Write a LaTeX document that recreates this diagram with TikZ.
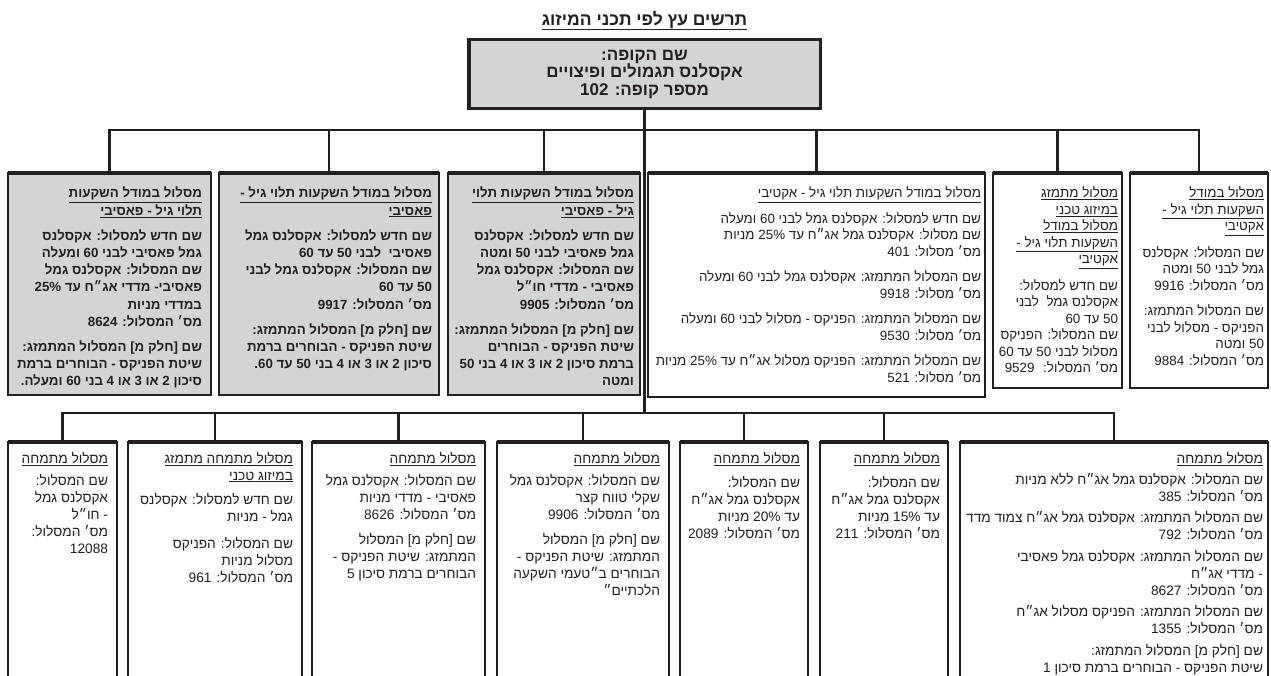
\documentclass[tikz,border=0pt]{standalone}
\usepackage{fontspec}
\usetikzlibrary{positioning}
\setmainfont{Liberation Sans}
\newfontfamily\hebfont[Script=Hebrew]{Liberation Sans}
\TeXXeTstate=1
\definecolor{ink}{HTML}{231F20}
\definecolor{boxgray}{HTML}{D3D4D6}
\newcommand{\rl}[1]{\beginR#1\endR}
\newcommand{\ul}[1]{\underline{\beginR#1\endR}}
\newcommand{\nb}[1]{\beginL#1\endL}
\newcommand{\cell}[3]{\parbox[t][#2][t]{#1}{\raggedleft#3}}
\tikzset{
  link/.style={draw=ink, line width=2.8pt},
  topbar/.style={draw=ink, line width=4pt},
  graybox/.style={draw=ink, line width=1.6pt, fill=boxgray, text=ink, inner xsep=7pt, inner ysep=14pt, outer sep=0pt,
    font=\hebfont\bfseries\fontsize{13.3}{17.2}\selectfont},
  whitebox/.style={draw=ink, line width=1.1pt, fill=white, text=ink, inner xsep=4pt, inner ysep=14pt, outer sep=0pt,
    font=\hebfont\fontsize{13.4}{16.5}\selectfont},
  lowbox/.style={whitebox, inner xsep=9pt, inner ysep=10pt,
    font=\hebfont\fontsize{13.7}{17}\selectfont},
}
\begin{document}
\begin{tikzpicture}[x=1pt, y=-1pt]
  \useasboundingbox (0,0) rectangle (1271,676);
  \clip (0,0) rectangle (1271,676);
  \fill[white] (0,0) rectangle (1271,676);

  % root
  \node[draw=ink, line width=3.5pt, fill=boxgray, text=ink, outer sep=0pt, minimum width=351.5pt, minimum height=69pt,
    align=center, font=\hebfont\bfseries\fontsize{17}{17.5}\selectfont] (root) at (644.5,74)
    {\rl{שם הקופה:}\\ \rl{אקסלנס תגמולים ופיצויים}\\ \rl{מספר קופה: \nb{102}}};
  \node[above=9pt of root, inner sep=0pt, text=ink, font=\hebfont\bfseries\fontsize{17.5}{20}\selectfont] (title)
    {\ul{תרשים עץ לפי תכני המיזוג}};

  % middle row
  \node[graybox, inner xsep=9pt, anchor=north west] (m1) at (8,173) {\cell{185pt}{194pt}{%
    \ul{מסלול במודל השקעות}\\
    \ul{תלוי גיל - פאסיבי}\\[8pt]
    \rl{שם חדש למסלול: אקסלנס}\\
    \rl{גמל פאסיבי לבני \nb{60} ומעלה}\\
    \rl{שם המסלול: אקסלנס גמל}\\
    \rl{פאסיבי- מדדי אג״ח עד \nb{25\%}}\\
    \rl{במדדי מניות}\\
    \rl{מס׳ המסלול: \nb{8624}}\\[8pt]
    \rl{שם [חלק מ] המסלול המתמזג:}\\
    \rl{שיטת הפניקס - הבוחרים ברמת}\\
    \rl{סיכון 2 או 3 או 4 בני \nb{60} ומעלה.}}};
  \node[graybox, right=8pt of m1.north east, anchor=north west] (m2) {\cell{206pt}{194pt}{%
    \ul{מסלול במודל השקעות תלוי גיל -}\\
    \ul{פאסיבי}\\[8pt]
    \rl{שם חדש למסלול: אקסלנס גמל}\\
    \rl{פאסיבי \ לבני \nb{50} עד \nb{60}}\\
    \rl{שם המסלול: אקסלנס גמל לבני}\\
    \rl{\nb{50} עד \nb{60}}\\
    \rl{מס׳ המסלול: \nb{9917}}\\[8pt]
    \rl{שם [חלק מ] המסלול המתמזג:}\\
    \rl{שיטת הפניקס - הבוחרים ברמת}\\
    \rl{סיכון 2 או 3 או 4 בני \nb{50} עד \nb{60}.}}};
  \node[graybox, inner xsep=6pt, right=9pt of m2.north east, anchor=north west] (m3) {\cell{180pt}{194pt}{%
    \ul{מסלול במודל השקעות תלוי}\\
    \ul{גיל - פאסיבי}\\[8pt]
    \rl{שם חדש למסלול: אקסלנס}\\
    \rl{גמל פאסיבי לבני \nb{50} ומטה}\\
    \rl{שם המסלול: אקסלנס גמל}\\
    \rl{פאסיבי - מדדי חו״ל}\\
    \rl{מס׳ המסלול: \nb{9905}}\\[8pt]
    \rl{שם [חלק מ] המסלול המתמזג:}\\
    \rl{שיטת הפניקס - הבוחרים}\\
    \rl{ברמת סיכון 2 או 3 או 4 בני \nb{50}}\\
    \rl{ומטה}}};
  \node[whitebox, right=8pt of m3.north east, anchor=north west] (m4) {\cell{329pt}{196pt}{%
    \ul{מסלול במודל השקעות תלוי גיל - אקטיבי}\\[9pt]
    \rl{שם חדש למסלול: אקסלנס גמל לבני \nb{60} ומעלה}\\
    \rl{שם מסלול: אקסלנס גמל אג״ח עד \nb{25\%} מניות}\\
    \rl{מס׳ מסלול: \nb{401}}\\[9pt]
    \rl{שם המסלול המתמזג: אקסלנס גמל לבני \nb{60} ומעלה}\\
    \rl{מס׳ מסלול: \nb{9918}}\\[9pt]
    \rl{שם המסלול המתמזג: הפניקס - מסלול לבני \nb{60} ומעלה}\\
    \rl{מס׳ מסלול: \nb{9530}}\\[9pt]
    \rl{שם המסלול המתמזג: הפניקס מסלול אג״ח עד \nb{25\%} מניות}\\
    \rl{מס׳ מסלול: \nb{521}}}};
  \node[whitebox, right=8pt of m4.north east, anchor=north west] (m5) {\cell{121pt}{187pt}{%
    \ul{מסלול מתמזג}\\
    \ul{במיזוג טכני}\\
    \ul{מסלול במודל}\\
    \ul{השקעות תלוי גיל -}\\
    \ul{אקטיבי}\\[10pt]
    \rl{שם חדש למסלול:}\\
    \rl{אקסלנס גמל \ לבני}\\
    \rl{\nb{50} עד \nb{60}}\\
    \rl{שם המסלול: הפניקס}\\
    \rl{מסלול לבני \nb{50} עד \nb{60}}\\
    \rl{מס׳ המסלול: \ \nb{9529}}}};
  \node[whitebox, right=8pt of m5.north east, anchor=north west] (m6) {\cell{130pt}{187pt}{%
    \ul{מסלול במודל}\\
    \ul{השקעות תלוי גיל -}\\
    \ul{אקטיבי}\\[10pt]
    \rl{שם המסלול: אקסלנס}\\
    \rl{גמל לבני \nb{50} ומטה}\\
    \rl{מס׳ המסלול: \nb{9916}}\\[9pt]
    \rl{שם המסלול המתמזג:}\\
    \rl{הפניקס - מסלול לבני}\\
    \rl{\nb{50} ומטה}\\
    \rl{מס׳ המסלול: \nb{9884}}}};

  % bottom row
  \node[lowbox, anchor=north west] (b1) at (8,442) {\cell{91pt}{230pt}{%
    \ul{מסלול מתמחה}\\[5pt]
    \rl{שם המסלול:}\\
    \rl{אקסלנס גמל}\\
    \rl{- חו״ל}\\
    \rl{מס׳ המסלול:}\\
    \rl{\nb{12088}}}};
  \node[lowbox, right=11pt of b1.north east, anchor=north west] (b2) {\cell{156pt}{230pt}{%
    \ul{מסלול מתמחה מתמזג}\\
    \ul{במיזוג טכני}\\[7pt]
    \rl{שם חדש למסלול: אקסלנס}\\
    \rl{גמל - מניות}\\[10pt]
    \rl{שם המסלול: הפניקס}\\
    \rl{מסלול מניות}\\
    \rl{מס׳ המסלול: \nb{961}}}};
  \node[lowbox, right=10pt of b2.north east, anchor=north west] (b3) {\cell{155pt}{230pt}{%
    \ul{מסלול מתמחה}\\[5pt]
    \rl{שם המסלול: אקסלנס גמל}\\
    \rl{פאסיבי - מדדי מניות}\\
    \rl{מס׳ המסלול: \nb{8626}}\\[8pt]
    \rl{שם [חלק מ] המסלול}\\
    \rl{המתמזג: שיטת הפניקס -}\\
    \rl{הבוחרים ברמת סיכון 5}}};
  \node[lowbox, right=12pt of b3.north east, anchor=north west] (b4) {\cell{154pt}{230pt}{%
    \ul{מסלול מתמחה}\\[5pt]
    \rl{שם המסלול: אקסלנס גמל}\\
    \rl{שקלי טווח קצר}\\
    \rl{מס׳ המסלול: \nb{9906}}\\[8pt]
    \rl{שם [חלק מ] המסלול}\\
    \rl{המתמזג: שיטת הפניקס -}\\
    \rl{הבוחרים ב״טעמי השקעה}\\
    \rl{הלכתיים״}}};
  \node[lowbox, inner xsep=8pt, right=11pt of b4.north east, anchor=north west] (b5) {\cell{112pt}{230pt}{%
    \ul{מסלול מתמחה}\\[7pt]
    \rl{שם המסלול:}\\
    \rl{אקסלנס גמל אג״ח}\\
    \rl{עד \nb{20\%} מניות}\\
    \rl{מס׳ המסלול: \nb{2089}}}};
  \node[lowbox, inner xsep=8pt, right=12pt of b5.north east, anchor=north west] (b6) {\cell{112pt}{230pt}{%
    \ul{מסלול מתמחה}\\[7pt]
    \rl{שם המסלול:}\\
    \rl{אקסלנס גמל אג״ח}\\
    \rl{עד \nb{15\%} מניות}\\
    \rl{מס׳ המסלול: \nb{211}}}};
  \node[lowbox, inner xsep=5pt, right=12pt of b6.north east, anchor=north west] (b7) {\cell{298pt}{230pt}{%
    \ul{מסלול מתמחה}\\[4pt]
    \rl{שם המסלול: אקסלנס גמל אג״ח ללא מניות}\\
    \rl{מס׳ המסלול: \nb{385}}\\[4.5pt]
    \rl{שם המסלול המתמזג: אקסלנס גמל אג״ח צמוד מדד}\\
    \rl{מס׳ המסלול: \nb{792}}\\[4.5pt]
    \rl{שם המסלול המתמזג: אקסלנס גמל פאסיבי}\\
    \rl{- מדדי אג״ח}\\
    \rl{מס׳ המסלול: \nb{8627}}\\[4.5pt]
    \rl{שם המסלול המתמזג: הפניקס מסלול אג״ח}\\
    \rl{מס׳ המסלול: \nb{1355}}\\[4.5pt]
    \rl{שם [חלק מ] המסלול המתמזג:}\\
    \rl{שיטת הפניקס - הבוחרים ברמת סיכון 1}}};

  % thick top edges
  \foreach \b in {m1,m2,m3,m4,m5,m6,b1,b2,b3,b4,b5,b6,b7}
    \draw[topbar] (\b.north west) -- (\b.north east);

  % connectors
  \coordinate (fork1) at (644.5,130);
  \coordinate (fork2) at (644.5,413);
  \draw[link] (root.south) -- (fork2);
  \draw[link] (m1.north) |- (fork1) -| (m6.north);
  \foreach \b in {m2,m3,m4,m5}
    \draw[link] (\b.north) |- (fork1);
  \draw[link] (b1.north) |- (fork2) -| (b7.north);
  \foreach \b in {b2,b3,b4,b5,b6}
    \draw[link] (\b.north) |- (fork2);
\end{tikzpicture}
\end{document}
